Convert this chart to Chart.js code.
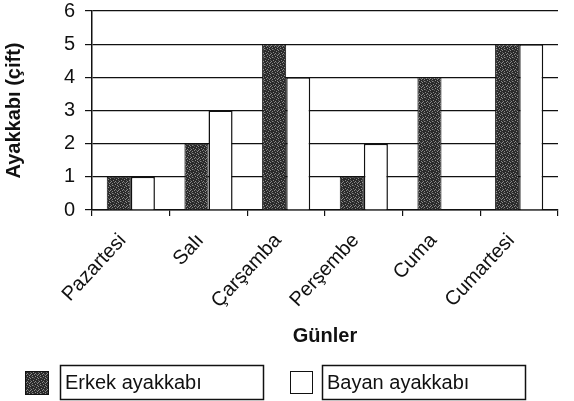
<!DOCTYPE html>
<html>
<head>
<meta charset="utf-8">
<script src="https://cdn.jsdelivr.net/npm/chart.js@4"></script>
<style>
html,body{margin:0;padding:0;background:#fff;}
#wrap{width:574px;height:401px;position:relative;}
</style>
</head>
<body>
<div id="wrap"><canvas id="c" width="574" height="401"></canvas></div>
<script>
const categories = ["Pazartesi", "Salı", "Çarşamba", "Perşembe", "Cuma", "Cumartesi"];
const erkekValues = [1, 2, 5, 1, 4, 5];
const bayanValues = [1, 3, 4, 2, 0, 5];
const seriesLabels = ["Erkek ayakkabı", "Bayan ayakkabı"];
const yTicks = [0, 1, 2, 3, 4, 5, 6];

function makePattern() {
  const p = document.createElement('canvas');
  p.width = 8; p.height = 8;
  const g = p.getContext('2d');
  g.fillStyle = '#2a2a2a';
  g.fillRect(0, 0, 8, 8);
  const light = [[0,1],[3,0],[6,2],[1,4],[4,3],[7,5],[2,6],[5,7],[0,7],[6,6],[3,5],[5,1]];
  g.fillStyle = '#8a8a8a';
  light.forEach(([x,y]) => g.fillRect(x, y, 1, 1));
  g.fillStyle = '#5a5a5a';
  [[2,2],[7,0],[4,6],[1,1],[6,4]].forEach(([x,y]) => g.fillRect(x, y, 1, 1));
  return document.getElementById('c').getContext('2d').createPattern(p, 'repeat');
}
const darkFill = makePattern();

const FONT = "'Liberation Sans', Arial, sans-serif";

const legendPlugin = {
  id: 'boxLegend',
  afterDraw(chart) {
    const ctx = chart.ctx;
    const items = [
      {sq: [25, 371, 24, 24], fill: darkFill, box: [60, 365, 203, 34], text: seriesLabels[0]},
      {sq: [290, 371, 23, 23], fill: '#ffffff', box: [322, 365, 203, 34], text: seriesLabels[1]}
    ];
    ctx.save();
    items.forEach(it => {
      ctx.fillStyle = it.fill;
      ctx.fillRect(...it.sq);
      ctx.strokeStyle = '#111';
      ctx.lineWidth = 1;
      ctx.strokeRect(it.sq[0] + 0.5, it.sq[1] + 0.5, it.sq[2] - 1, it.sq[3] - 1);
      ctx.lineWidth = 1.5;
      ctx.strokeRect(it.box[0] + 0.5, it.box[1] + 0.5, it.box[2], it.box[3]);
      ctx.fillStyle = '#111';
      ctx.font = "20px " + FONT;
      ctx.textBaseline = 'middle';
      ctx.textAlign = 'left';
      ctx.fillText(it.text, it.box[0] + 5, it.box[1] + it.box[3] / 2 + 1);
    });
    ctx.restore();
  }
};

new Chart(document.getElementById('c'), {
  type: 'bar',
  data: {
    labels: categories,
    datasets: [
      {label: seriesLabels[0], data: erkekValues, backgroundColor: darkFill, borderColor: '#111', borderWidth: 1},
      {label: seriesLabels[1], data: bayanValues, backgroundColor: '#ffffff', borderColor: '#111', borderWidth: 1.5}
    ]
  },
  options: {
    responsive: false,
    animation: false,
    devicePixelRatio: 1,
    layout: {padding: {left: 0, right: 16, top: 0, bottom: 43}},
    datasets: {bar: {categoryPercentage: 0.62, barPercentage: 1.0}},
    plugins: {legend: {display: false}, tooltip: {enabled: false}},
    scales: {
      x: {
        grid: {display: true, drawOnChartArea: false, drawTicks: true, tickLength: 6, color: '#111', lineWidth: 1.2},
        border: {display: true, color: '#111', width: 1.5},
        ticks: {color: '#111', font: {family: FONT, size: 20}, minRotation: 47, maxRotation: 47, padding: 13, labelOffset: -8, autoSkip: false},
        title: {display: true, text: 'Günler', color: '#111', font: {family: FONT, size: 20, weight: 'bold'}, padding: {top: 0, bottom: 10}},
        afterFit(s) { s.height = 148; }
      },
      y: {
        min: 0, max: 6,
        afterBuildTicks(s) { s.ticks = yTicks.map(v => ({value: v})); },
        grid: {display: true, color: '#111', lineWidth: 1.2, tickLength: 7, drawTicks: true},
        border: {display: true, color: '#111', width: 1.5},
        ticks: {color: '#111', font: {family: FONT, size: 20}, padding: 10},
        title: {display: true, text: 'Ayakkabı (çift)', color: '#111', font: {family: FONT, size: 20, weight: 'bold'}, padding: {top: 2, bottom: 0}},
        afterFit(s) { s.width = 92; s.paddingTop = 11; }
      }
    }
  },
  plugins: [legendPlugin]
});
</script>
</body>
</html>
